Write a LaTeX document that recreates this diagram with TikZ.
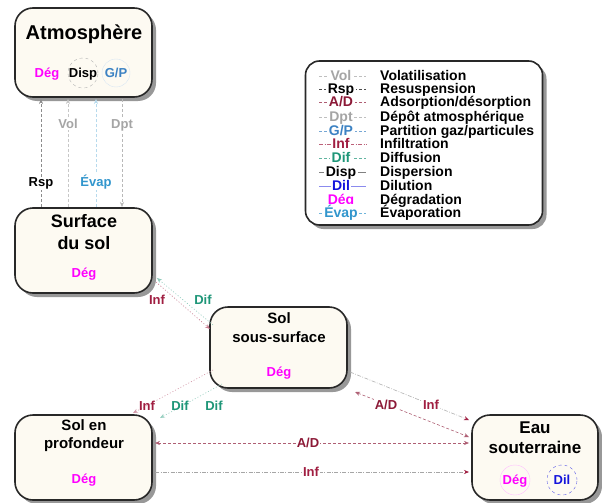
\documentclass[tikz,border=0pt]{standalone}
\usepackage{fontspec}
\setmainfont{Liberation Sans}
\usetikzlibrary{arrows.meta,shadows}
\definecolor{boxfill}{RGB}{253,250,242}
\definecolor{boxline}{RGB}{40,40,40}
\definecolor{shadowc}{RGB}{135,135,135}
\definecolor{infc}{RGB}{160,30,65}
\definecolor{adc}{RGB}{140,25,55}
\definecolor{difc}{RGB}{30,150,120}
\definecolor{gpc}{RGB}{60,130,195}
\definecolor{evapc}{RGB}{50,150,205}
\definecolor{volc}{RGB}{165,165,165}
\definecolor{degc}{RGB}{255,0,255}
\definecolor{dilc}{RGB}{20,20,220}
\begin{document}
\begin{tikzpicture}[x=1pt,y=-1pt,
  box/.style={draw=boxline, line width=1.6pt, rounded corners=18pt, fill=boxfill,
    drop shadow={shadow xshift=4pt, shadow yshift=-4pt, fill=shadowc, opacity=0.85}, inner sep=0pt},
  ttl/.style={font=\bfseries\fontsize{#1}{#1}\selectfont, inner sep=0pt, anchor=base},
  lbl/.style={font=\bfseries\fontsize{13}{13}\selectfont, inner sep=1pt, anchor=base},
  wl/.style={lbl, fill=white},
  tip/.style={-{Stealth[length=5pt,width=4pt]}},
  tips/.style={{Stealth[length=5pt,width=4pt]}-{Stealth[length=5pt,width=4pt]}},
  thinl/.style={line width=0.6pt},
  dsh/.style={dash pattern=on 3pt off 2pt},
  dshdot/.style={dash pattern=on 4pt off 1.5pt on 0.8pt off 1.5pt},
  dotl/.style={dash pattern=on 1pt off 2pt},
  legl/.style={line width=0.8pt, draw opacity=0.7}
]
\useasboundingbox (0,0) rectangle (602,503);
\fill[white] (0,0) rectangle (602,503);

% ---------------- boxes
\node[box, minimum width=137pt, minimum height=89pt] (atm) at (83.5,52.5) {};
\node[box, minimum width=137pt, minimum height=85pt] (surf) at (83.5,250.5) {};
\node[box, minimum width=137pt, minimum height=81pt] (sous) at (278.5,347.5) {};
\node[box, minimum width=137pt, minimum height=85pt] (prof) at (83.5,457.5) {};
\node[box, minimum width=126pt, minimum height=85pt] (eau) at (535,457.5) {};
\node[box, rounded corners=14pt, fill=white, minimum width=237pt, minimum height=164pt] (leg) at (424,143) {};

% ---------------- box texts
\node[ttl=20] (atmT) at (84,40) {Atmosphère};
\node[circle, draw=gray!60, dashed, thin, minimum size=30pt] (dispC) at (83,73) {};
\node[circle, draw=gpc!20, thin, minimum size=28pt] (gpC) at (116,73) {};
\node[ttl=13, text=degc] (atmDeg) at (47,77.7) {Dég};
\node[ttl=13] (atmDisp) at (83,77.7) {Disp};
\node[ttl=13, text=gpc] (atmGP) at (116,77.7) {G/P};

\node[ttl=18] (surfT1) at (84,227.5) {Surface};
\node[ttl=18] (surfT2) at (84,249.5) {du sol};
\node[ttl=13, text=degc] (surfDeg) at (84,277.7) {Dég};

\node[ttl=15] (sousT1) at (279,323.4) {Sol};
\node[ttl=15] (sousT2) at (279,342.4) {sous-surface};
\node[ttl=13, text=degc] (sousDeg) at (279,376.7) {Dég};

\node[ttl=15] (profT1) at (84,430.4) {Sol en};
\node[ttl=15] (profT2) at (84,448.4) {profondeur};
\node[ttl=13, text=degc] (profDeg) at (84,483.7) {Dég};

\node[ttl=17] (eauT1) at (535,433) {Eau};
\node[ttl=17] (eauT2) at (535,453) {souterraine};
\node[circle, draw=degc!25, thin, minimum size=30pt] (eauDegC) at (515,480) {};
\node[circle, draw=dilc!70, dashed, thin, minimum size=30pt] (dilC) at (562,480) {};
\node[ttl=13, text=degc] (eauDeg) at (515,484.7) {Dég};
\node[ttl=13, text=dilc] (eauDil) at (562,484.7) {Dil};

% ---------------- atmosphere <-> surface
\coordinate (rspS) at (41,207);  \coordinate (rspA) at (41,99);
\coordinate (volS) at (68,207);  \coordinate (volA) at (68,99);
\coordinate (evS) at (96,207);   \coordinate (evA) at (96,99);
\coordinate (dptA) at (122,99);  \coordinate (dptS) at (122,207);
\draw[thinl, dsh, black!45, tip] (rspS) -- (rspA);
\draw[thinl, dsh, black!22, tip] (volS) -- (volA);
\draw[thinl, dsh, evapc!35, tip] (evS) -- (evA);
\draw[thinl, dsh, black!28, tip] (dptA) -- (dptS);
\node[wl, text=volc] (volL) at (68,128.7) {Vol};
\node[wl, text=volc] (dptL) at (122,128.7) {Dpt};
\node[wl] (rspL) at (41,186.7) {Rsp};
\node[wl, text=evapc] (evL) at (96,186.7) {Évap};

% ---------------- surface <-> sous-surface
\coordinate (ssInfA) at (156,282); \coordinate (ssInfB) at (210,329);
\coordinate (ssDifA) at (213,325); \coordinate (ssDifB) at (157,278);
\draw[thinl, dotl, infc!60, tip] (ssInfA) -- (ssInfB);
\draw[thinl, dotl, difc!50, tip] (ssDifA) -- (ssDifB);
\node[lbl, text=infc] (ssInfL) at (157,304.7) {Inf};
\node[lbl, text=difc] (ssDifL) at (203,304.7) {Dif};

% ---------------- sous-surface <-> profondeur
\coordinate (spInfA) at (213,370); \coordinate (spInfB) at (133,413);
\coordinate (spDifA) at (222,384); \coordinate (spDifB) at (160,418);
\draw[thinl, dotl, infc!45, tip] (spInfA) -- (spInfB);
\draw[thinl, dotl, difc!45, tip] (spDifA) -- (spDifB);
\node[lbl, text=infc] (spInfL) at (147,410.7) {Inf};
\node[lbl, text=difc] (spDifL) at (180,410.7) {Dif};
\node[lbl, text=difc] (spDifL2) at (214,410.7) {Dif};

% ---------------- sous-surface <-> eau
\coordinate (seInfA) at (350,372); \coordinate (seInfB) at (469,420);
\coordinate (seAdA) at (355,392);  \coordinate (seAdB) at (469,437);
\draw[thinl, dshdot, black!30, -{Stealth[length=5pt,width=4pt,color=infc]}] (seInfA) -- (seInfB);
\draw[thinl, dsh, adc!70, tips] (seAdA) -- (seAdB);
\node[wl, text=adc] (seAdL) at (386,409.7) {A/D};
\node[wl, text=infc] (seInfL) at (431,409.7) {Inf};

% ---------------- profondeur <-> eau
\coordinate (peAdA) at (155,443); \coordinate (peAdB) at (469,443);
\coordinate (peInfA) at (155,472); \coordinate (peInfB) at (469,472);
\draw[thinl, dsh, adc!70, tips] (peAdA) -- (peAdB);
\draw[thinl, dshdot, black!35, -{Stealth[length=5pt,width=4pt,color=infc]}] (peInfA) -- (peInfB);
\node[wl, text=adc] (peAdL) at (308,447.7) {A/D};
\node[wl, text=infc] (peInfL) at (311,476.7) {Inf};

% ---------------- legend line samples
\draw[legl, dsh, volc] (319,76) -- (366,76);
\draw[legl, dsh, black] (319,89) -- (366,89);
\draw[legl, dsh, adc] (319,102) -- (366,102);
\draw[legl, dsh, volc] (319,117) -- (366,117);
\draw[legl, dsh, gpc] (319,131) -- (366,131);
\draw[legl, dshdot, infc] (319,144) -- (366,144);
\draw[legl, dsh, difc] (319,158) -- (366,158);
\draw[legl, black!70] (319,172) -- (366,172);
\draw[legl, dilc!70] (319,186) -- (366,186);
\draw[legl, dsh, evapc] (319,213) -- (366,213);

% ---------------- legend texts
\foreach \yy/\ab/\cc/\ds [count=\i] in {
  76/Vol/volc/Volatilisation,
  89/Rsp/black/Resuspension,
  102/{A/D}/adc/{Adsorption/désorption},
  117/Dpt/volc/Dépôt atmosphérique,
  131/{G/P}/gpc/{Partition gaz/particules},
  144/Inf/infc/Infiltration,
  158/Dif/difc/Diffusion,
  172/Disp/black/Dispersion,
  186/Dil/dilc/Dilution,
  200/Dég/degc/Dégradation,
  213/Évap/evapc/Évaporation} {
  \node[font=\bfseries\fontsize{14}{14}\selectfont, inner sep=1.5pt, fill=white, text=\cc, anchor=base] (lab\i) at (341,\yy+4.8) {\ab};
  \node[font=\bfseries\fontsize{14}{14}\selectfont, inner sep=0pt, anchor=base west] (lds\i) at (380,\yy+4.8) {\ds};
}
\end{tikzpicture}
\end{document}
